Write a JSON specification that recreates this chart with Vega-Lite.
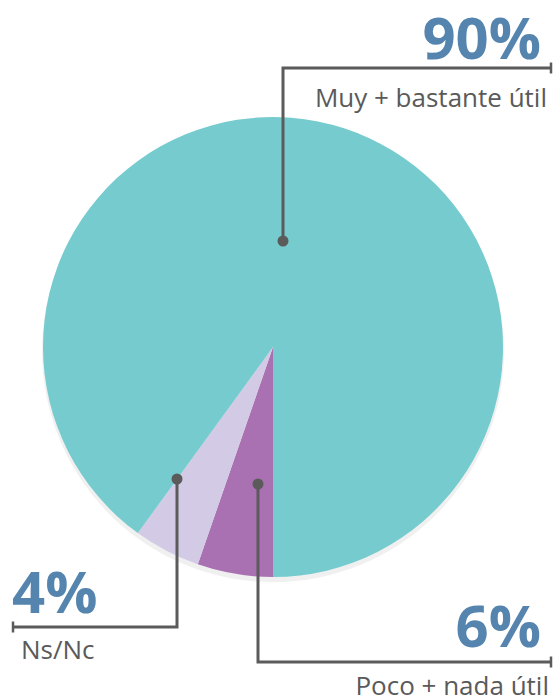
{
  "$schema": "https://vega.github.io/schema/vega-lite/v6.json",
  "width": 555,
  "height": 697,
  "padding": 0,
  "autosize": {"type": "none"},
  "background": "white",
  "config": {"view": {"stroke": null}},
  "datasets": {
    "slices": [
      {"cat": "Poco + nada útil", "value": 5.3, "ord": 1},
      {"cat": "Ns/Nc", "value": 4.7, "ord": 2},
      {"cat": "Muy + bastante útil", "value": 90, "ord": 3}
    ],
    "leaders": [
      {"g": "a", "step": 1, "u": 0.0435, "v": 0.4609},
      {"g": "a", "step": 2, "u": 0.0435, "v": 1.2130},
      {"g": "a", "step": 3, "u": 1.2087, "v": 1.2130},
      {"g": "b", "step": 1, "u": -0.4174, "v": -0.5739},
      {"g": "b", "step": 2, "u": -0.4174, "v": -1.2174},
      {"g": "b", "step": 3, "u": -1.1304, "v": -1.2174},
      {"g": "c", "step": 1, "u": -0.0652, "v": -0.5957},
      {"g": "c", "step": 2, "u": -0.0652, "v": -1.3696},
      {"g": "c", "step": 3, "u": 1.2087, "v": -1.3696}
    ],
    "ticks": [
      {"g": "a", "u": 1.2087, "v": 1.2370, "v2": 1.1891},
      {"g": "b", "u": -1.1304, "v": -1.1935, "v2": -1.2413},
      {"g": "c", "u": 1.2087, "v": -1.3457, "v2": -1.3935}
    ],
    "dots": [
      {"g": "a", "u": 0.0435, "v": 0.4609},
      {"g": "b", "u": -0.4174, "v": -0.5739},
      {"g": "c", "u": -0.0652, "v": -0.5957}
    ],
    "labels": [
      {"txt": "90%", "kind": "pct", "side": "right", "u": 1.1652, "v": 1.2522},
      {"txt": "Muy + bastante útil", "kind": "name", "side": "right", "u": 1.1913, "v": 1.0435},
      {"txt": "4%", "kind": "pct", "side": "left", "u": -1.1348, "v": -1.1565},
      {"txt": "Ns/Nc", "kind": "name", "side": "left", "u": -1.0957, "v": -1.3565},
      {"txt": "6%", "kind": "pct", "side": "right", "u": 1.1652, "v": -1.3043},
      {"txt": "Poco + nada útil", "kind": "name", "side": "right", "u": 1.2, "v": -1.5130}
    ]
  },
  "encoding": {
    "x": {"type": "quantitative", "scale": {"domain": [-1.18696, 1.22609], "nice": false, "zero": false}, "axis": null},
    "y": {"type": "quantitative", "scale": {"domain": [-1.52174, 1.5087], "nice": false, "zero": false}, "axis": null}
  },
  "layer": [
    {
      "data": {"name": "slices"},
      "transform": [{"filter": "datum.ord == 3"}],
      "mark": {"type": "arc", "theta": 0, "theta2": 6.2832, "outerRadius": 231, "color": "#000000", "opacity": 0.06},
      "encoding": {"x": {"datum": 0}, "y": {"datum": -0.018}}
    },
    {
      "data": {"name": "slices"},
      "mark": {"type": "arc", "outerRadius": 230},
      "encoding": {
        "x": {"datum": 0},
        "y": {"datum": 0},
        "theta": {"field": "value", "type": "quantitative", "stack": true, "scale": {"type": "linear", "range": [3.14159265, 9.42477796]}},
        "order": {"field": "ord", "type": "quantitative"},
        "color": {"field": "cat", "type": "nominal", "legend": null,
          "scale": {"domain": ["Poco + nada útil", "Ns/Nc", "Muy + bastante útil"], "range": ["#A971B1", "#D3CAE5", "#76CBCF"]}}
      }
    },
    {
      "data": {"name": "leaders"},
      "mark": {"type": "line", "color": "#5b5b5b", "strokeWidth": 3, "strokeCap": "butt", "strokeJoin": "miter"},
      "encoding": {
        "x": {"field": "u", "type": "quantitative"},
        "y": {"field": "v", "type": "quantitative"},
        "detail": {"field": "g"},
        "order": {"field": "step", "type": "quantitative"}
      }
    },
    {
      "data": {"name": "ticks"},
      "mark": {"type": "rule", "color": "#5b5b5b", "strokeWidth": 2.5},
      "encoding": {
        "x": {"field": "u", "type": "quantitative"},
        "y": {"field": "v", "type": "quantitative"},
        "y2": {"field": "v2"}
      }
    },
    {
      "data": {"name": "dots"},
      "mark": {"type": "point", "shape": "circle", "filled": true, "opacity": 1, "color": "#5b5b5b", "size": 121},
      "encoding": {
        "x": {"field": "u", "type": "quantitative"},
        "y": {"field": "v", "type": "quantitative"}
      }
    },
    {
      "data": {"name": "labels"},
      "transform": [{"filter": "datum.kind == 'pct' && datum.side == 'right'"}],
      "mark": {"type": "text", "font": "Open Sans", "fontWeight": "bold", "fontSize": 58, "color": "#5585AE", "align": "right", "baseline": "alphabetic"},
      "encoding": {"x": {"field": "u", "type": "quantitative"}, "y": {"field": "v", "type": "quantitative"}, "text": {"field": "txt"}}
    },
    {
      "data": {"name": "labels"},
      "transform": [{"filter": "datum.kind == 'pct' && datum.side == 'left'"}],
      "mark": {"type": "text", "font": "Open Sans", "fontWeight": "bold", "fontSize": 58, "color": "#5585AE", "align": "left", "baseline": "alphabetic"},
      "encoding": {"x": {"field": "u", "type": "quantitative"}, "y": {"field": "v", "type": "quantitative"}, "text": {"field": "txt"}}
    },
    {
      "data": {"name": "labels"},
      "transform": [{"filter": "datum.kind == 'name' && datum.side == 'right'"}],
      "mark": {"type": "text", "font": "Open Sans", "fontSize": 26, "color": "#5a5a5a", "align": "right", "baseline": "alphabetic"},
      "encoding": {"x": {"field": "u", "type": "quantitative"}, "y": {"field": "v", "type": "quantitative"}, "text": {"field": "txt"}}
    },
    {
      "data": {"name": "labels"},
      "transform": [{"filter": "datum.kind == 'name' && datum.side == 'left'"}],
      "mark": {"type": "text", "font": "Open Sans", "fontSize": 26, "color": "#5a5a5a", "align": "left", "baseline": "alphabetic"},
      "encoding": {"x": {"field": "u", "type": "quantitative"}, "y": {"field": "v", "type": "quantitative"}, "text": {"field": "txt"}}
    }
  ]
}
